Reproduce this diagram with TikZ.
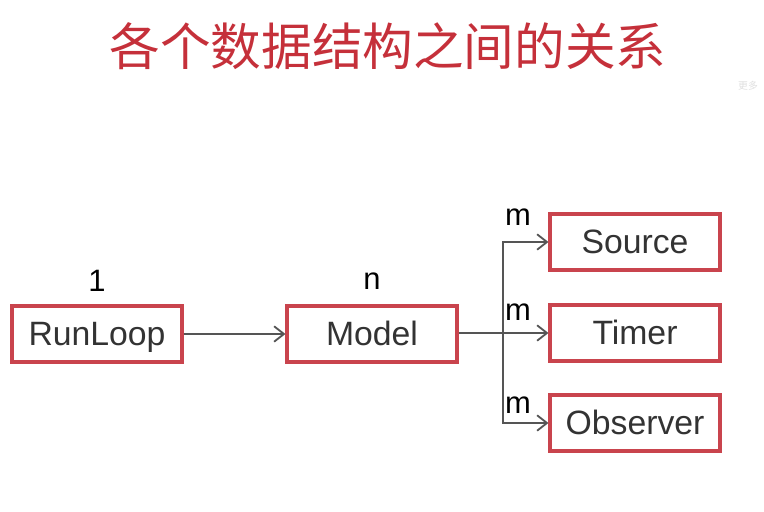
\documentclass[tikz,border=0pt]{standalone}
\usepackage{fontspec}
\setmainfont{Liberation Sans}
\newfontfamily\cjk{Noto Sans CJK SC}
\usetikzlibrary{positioning,calc,arrows.meta}
\definecolor{boxred}{HTML}{C9444D}
\definecolor{titlered}{HTML}{C5303A}
\definecolor{txtgray}{HTML}{333333}
\definecolor{arrgray}{HTML}{555555}

\begin{document}
\begin{tikzpicture}[
    x=0.025cm, y=-0.025cm,
    box/.style={draw=boxred, line width=2.2pt, minimum width=4.25cm, minimum height=1.4cm, inner sep=0pt, text height=17pt, text depth=0pt, text=txtgray, font=\fontsize{24}{28}\selectfont},
    arr/.style={-{Straight Barb[length=7pt, width=11pt, line width=1.3pt]}, line width=1pt, arrgray},
    lbl/.style={font=\fontsize{22}{26}\selectfont, black}
]
    \useasboundingbox (0,0) rectangle (764,512);

    % --- Title ---
    \node[titlered, font=\cjk\fontsize{36}{40}\selectfont] (title) at (388,46) {各个数据结构之间的关系};
    \node[gray!25, font=\cjk\fontsize{7}{8}\selectfont] (more) at (748,86) {更多};

    % --- Chain ---
    \node[box] (runloop) at (97,334) {RunLoop};
    \node[box] (model) at (372,334) {Model};
    \draw[arr] (runloop) -- (model);

    % --- Children of Model ---
    \node[box] (source) at (635,242) {Source};
    \node[box] (timer) at (635,333) {Timer};
    \node[box] (observer) at (635,423) {Observer};
    \coordinate (fork) at (503,333);
    \draw[arr] (model.east |- timer) -- (timer);
    \draw[arr] (fork) |- (source);
    \draw[arr] (fork) |- (observer);

    % --- Multiplicities ---
    \node[lbl] (one) at (97,281) {1};
    \node[lbl] (n) at (372,281) {n};
    \node[lbl] (msrc) at (518,217) {m};
    \node[lbl] (mtim) at (518,312) {m};
    \node[lbl] (mobs) at (518,405) {m};
\end{tikzpicture}
\end{document}
